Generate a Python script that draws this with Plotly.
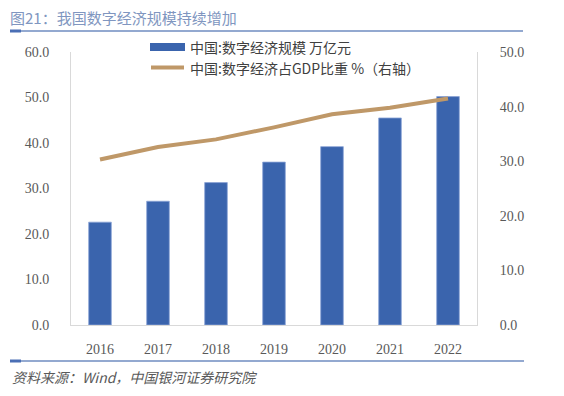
import plotly.graph_objects as go

years = ["2016", "2017", "2018", "2019", "2020", "2021", "2022"]
scale = [22.6, 27.2, 31.3, 35.8, 39.2, 45.5, 50.2]      # 万亿元
share = [30.3, 32.6, 34.0, 36.2, 38.6, 39.8, 41.5]      # % of GDP
left_ticks = [0, 10, 20, 30, 40, 50, 60]
right_ticks = [0, 10, 20, 30, 40, 50]

# the page body has an 8px margin, so the figure is drawn 8px in from the window edge
OFF = 8
W, H = 564 - 2 * OFF, 396 - 2 * OFF
L, R, T, B = 71, 477, 52, 325          # plot area in window pixels
pw, ph = R - L, B - T

def px(x):
    return (x - L) / pw

def py(y):
    return (B - y) / ph

num_font = dict(family="Liberation Serif, Times New Roman, serif", size=14, color="#595959")
cjk = "Noto Sans CJK SC, sans-serif"

fig = go.Figure()
fig.add_trace(go.Bar(x=years, y=scale, name="中国:数字经济规模 万亿元",
                     marker=dict(color="#3A64AD", line=dict(color="#8aa3d6", width=0.8)),
                     width=0.39, yaxis="y"))
fig.add_trace(go.Scatter(x=years, y=share, name="中国:数字经济占GDP比重 %（右轴）",
                         mode="lines", line=dict(color="#BF9868", width=4), yaxis="y2"))

fig.update_layout(
    width=W, height=H,
    margin=dict(l=L - OFF, r=W - (R - OFF), t=T - OFF, b=H - (B - OFF), autoexpand=False),
    paper_bgcolor="white", plot_bgcolor="white",
    showlegend=False,
    xaxis=dict(showline=True, linecolor="#d9d9d9", linewidth=1, ticks="",
               tickfont=num_font, showgrid=False, ticklabelstandoff=11),
    yaxis=dict(range=[0, 60], tickvals=left_ticks, tickformat=".1f", showline=True,
               linecolor="#d9d9d9", linewidth=1, showgrid=False, zeroline=False,
               tickfont=num_font, ticklabelstandoff=18),
    yaxis2=dict(range=[0, 50], tickvals=right_ticks, tickformat=".1f", overlaying="y",
                side="right", showline=True, linecolor="#d9d9d9", linewidth=1,
                showgrid=False, zeroline=False, tickfont=num_font, ticklabelstandoff=19),
)

shapes = []
# title rule
shapes.append(dict(type="line", xref="paper", yref="paper", x0=px(10), x1=px(523),
                   y0=py(31), y1=py(31), line=dict(color="#6f8cc0", width=1.5)))
shapes.append(dict(type="line", xref="paper", yref="paper", x0=px(10), x1=px(21),
                   y0=py(31), y1=py(31), line=dict(color="#4a6fb5", width=3)))
# footer rule
shapes.append(dict(type="line", xref="paper", yref="paper", x0=px(10), x1=px(524),
                   y0=py(361), y1=py(361), line=dict(color="#6f8cc0", width=1.5)))
shapes.append(dict(type="line", xref="paper", yref="paper", x0=px(10), x1=px(21),
                   y0=py(361), y1=py(361), line=dict(color="#4a6fb5", width=3)))
# legend symbols
shapes.append(dict(type="rect", xref="paper", yref="paper", x0=px(150), x1=px(185),
                   y0=py(51), y1=py(43), fillcolor="#3A64AD", line=dict(width=0)))
shapes.append(dict(type="line", xref="paper", yref="paper", x0=px(151), x1=px(184),
                   y0=py(67.5), y1=py(67.5), line=dict(color="#BF9868", width=4)))
fig.update_layout(shapes=shapes)

ann = []
ann.append(dict(text="图21：我国数字经济规模持续增加", xref="paper", yref="paper",
                x=px(9), y=py(17.5), xanchor="left", yanchor="middle", showarrow=False,
                borderpad=0, font=dict(family=cjk, size=15, color="#8096c0")))
ann.append(dict(text="中国:数字经济规模 万亿元", xref="paper", yref="paper",
                x=px(188), y=py(47), xanchor="left", yanchor="middle", showarrow=False,
                font=dict(family=cjk, size=14, color="#404040")))
ann.append(dict(text="中国:数字经济占GDP比重 %（右轴）", xref="paper", yref="paper",
                x=px(188), y=py(67.5), xanchor="left", yanchor="middle", showarrow=False,
                font=dict(family=cjk, size=14, color="#404040")))
ann.append(dict(text="<i>资料来源：Wind，中国银河证券研究院</i>", xref="paper", yref="paper",
                x=px(11), y=py(377), xanchor="left", yanchor="middle", showarrow=False,
                borderpad=0, font=dict(family=cjk, size=14, color="#595959")))
fig.update_layout(annotations=ann)

fig.write_html("out.html")
